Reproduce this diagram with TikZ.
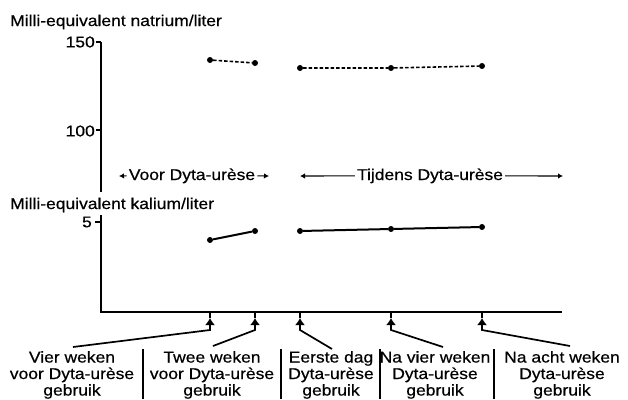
\documentclass[tikz,border=0pt]{standalone}
\usepackage{fontspec}
\setmainfont{Liberation Sans}[FakeStretch=1.12,FakeBold=0.5]
\usetikzlibrary{arrows.meta}
\begin{document}
\begin{tikzpicture}[x=1pt,y=-1pt,
  lbl/.style={font=\fontsize{15.6}{16.5}\selectfont, inner sep=0pt},
  axisline/.style={line width=1.9pt},
  tickline/.style={line width=1.5pt},
  naline/.style={line width=1.6pt, dash pattern=on 3.5pt off 2pt},
  kline/.style={line width=2pt},
  dot/.style={circle, fill=black, inner sep=0pt, minimum size=6pt},
  period/.style={line width=1.1pt, -{Latex[length=5pt,width=5.5pt]}},
  conn/.style={line width=1.7pt, -{Latex[length=7pt,width=10pt]}},
  divider/.style={line width=2.2pt}]
\useasboundingbox (0,0) rectangle (628,399);

% titles
\node[lbl, anchor=base west] (tna) at (10,26) {Milli-equivalent natrium/liter};
\node[lbl, anchor=base west] (tk) at (10,209) {Milli-equivalent kalium/liter};

% axes
\coordinate (ytop) at (101,42);
\coordinate (ymid) at (101,192);
\coordinate (ylow) at (101,215);
\coordinate (orig) at (101,312);
\coordinate (xend) at (562,312);
\draw[axisline] (ytop) -- (ymid);
\draw[axisline] (ylow) -- (orig) -- (xend);
\draw[tickline] (96,42) -- (ytop);
\draw[tickline] (96,130) -- (101,130);
\draw[tickline] (95,222) -- (101,222);
\node[lbl, anchor=east] (l150) at (95,42) {150};
\node[lbl, anchor=east] (l100) at (95,131) {100};
\node[lbl, anchor=east] (l5) at (92,222) {5};

% period labels
\node[lbl, anchor=base, inner xsep=2pt] (voor) at (192,180) {Voor Dyta-urèse};
\coordinate (voorL) at (119,176);
\coordinate (voorR) at (269,176);
\draw[period] (voor.west) -- (voorL);
\draw[period] (voor.east) -- (voorR);
\node[lbl, anchor=base, inner xsep=2pt] (tijd) at (430,180) {Tijdens Dyta-urèse};
\coordinate (tijdL) at (300,176);
\coordinate (tijdR) at (563,176);
\draw[period] (tijd.west) -- (tijdL);
\draw[period] (tijd.east) -- (tijdR);

% natrium data
\node[dot] (n1) at (210,60) {};
\node[dot] (n2) at (255,63) {};
\node[dot] (n3) at (300,68) {};
\node[dot] (n4) at (391,68) {};
\node[dot] (n5) at (482,66) {};
\draw[naline] (n1) -- (n2);
\draw[naline] (n3) -- (n4) -- (n5);

% kalium data
\node[dot] (k1) at (210,240) {};
\node[dot] (k2) at (255,231) {};
\node[dot] (k3) at (300,231) {};
\node[dot] (k4) at (391,229) {};
\node[dot] (k5) at (482,227) {};
\draw[kline] (k1) -- (k2);
\draw[kline] (k3) -- (k4) -- (k5);

% x ticks and arrow tips
\foreach \i/\x in {1/210,2/255,3/300,4/391,5/482}{
  \coordinate (x\i) at (\x,312);
  \coordinate (a\i) at (\x,318);
  \coordinate (c\i) at (\x,330);
  \draw[tickline] (x\i) -- (a\i);
}

% bottom labels
\node[lbl, anchor=north, align=center] (b1) at (72,351) {Vier weken\\voor Dyta-urèse\\gebruik};
\node[lbl, anchor=north, align=center] (b2) at (212,351) {Twee weken\\voor Dyta-urèse\\gebruik};
\node[lbl, anchor=north, align=center] (b3) at (331,351) {Eerste dag\\Dyta-urèse\\gebruik};
\node[lbl, anchor=north, align=center] (b4) at (435,351) {Na vier weken\\Dyta-urèse\\gebruik};
\node[lbl, anchor=north, align=center] (b5) at (562,351) {Na acht weken\\Dyta-urèse\\gebruik};

% dividers
\draw[divider] (143,349) -- (143,399);
\draw[divider] (281,349) -- (281,399);
\draw[divider] (380,349) -- (380,399);
\draw[divider] (494,349) -- (494,399);

% connectors
\draw[conn] ([xshift=1pt,yshift=4pt]b1.north) -- (c1) -- (a1);
\draw[conn] ([xshift=1pt,yshift=5pt]b2.north) -- (c2) -- (a2);
\draw[conn] ([xshift=1pt,yshift=2pt]b3.north) -- (c3) -- (a3);
\draw[conn] ([xshift=8pt,yshift=4pt]b4.north) -- (c4) -- (a4);
\draw[conn] ([xshift=8pt,yshift=5pt]b5.north) -- (c5) -- (a5);
\end{tikzpicture}
\end{document}
